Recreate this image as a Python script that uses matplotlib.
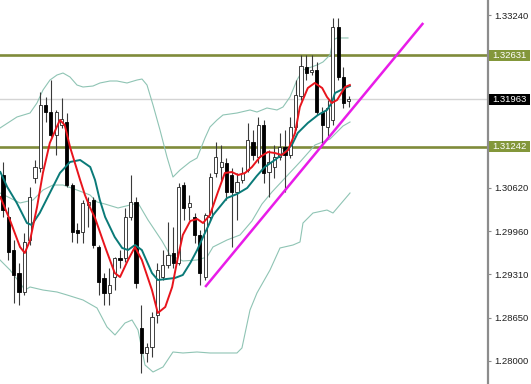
import matplotlib
matplotlib.use("Agg")
import matplotlib.pyplot as plt
from matplotlib.patches import Rectangle

# ---------------- data (prices) ----------------
opens = [1.30816, 1.30179, 1.29679, 1.29331, 1.29043, 1.29831, 1.30770, 1.30922, 1.31876, 1.31770,
         1.31422, 1.31573, 1.31619, 1.30664, 1.29982, 1.29952, 1.30361, 1.30437, 1.29725, 1.29255,
         1.29028, 1.29270, 1.29558, 1.29558, 1.30179, 1.30407, 1.28498, 1.28119, 1.28210, 1.28695,
         1.29270, 1.29452, 1.29634, 1.29482, 1.30664, 1.30331, 1.30179, 1.29907, 1.29270, 1.30179,
         1.30846, 1.30937, 1.30998, 1.30816, 1.30558, 1.30740, 1.30891, 1.31316, 1.31088, 1.31573,
         1.30861, 1.30937, 1.31088, 1.31240, 1.31119, 1.31543, 1.32013, 1.32452, 1.32376, 1.32407,
         1.31770, 1.31543, 1.31649, 1.33058, 1.32301, 1.31937]
highs = [1.31013, 1.30331, 1.29831, 1.29482, 1.29937, 1.30634, 1.31043, 1.32073, 1.31998, 1.32255,
         1.31801, 1.31982, 1.31755, 1.30695, 1.30088, 1.30437, 1.30482, 1.30482, 1.29755, 1.29331,
         1.29407, 1.29573, 1.29679, 1.30316, 1.30816, 1.30482, 1.28846, 1.28270, 1.28740, 1.29482,
         1.29679, 1.30104, 1.30028, 1.30695, 1.30710, 1.30513, 1.30240, 1.29982, 1.30240, 1.30846,
         1.31316, 1.31270, 1.31073, 1.30922, 1.30846, 1.30937, 1.31604, 1.31498, 1.31695, 1.31649,
         1.31195, 1.31270, 1.31452, 1.31498, 1.31695, 1.32255, 1.32634, 1.32634, 1.32634, 1.32528,
         1.31846, 1.31952, 1.33195, 1.33195, 1.32452, 1.32013]
lows = [1.30179, 1.29528, 1.28876, 1.28846, 1.28998, 1.29755, 1.30695, 1.30861, 1.31619, 1.31392,
        1.31119, 1.31528, 1.30634, 1.29801, 1.29785, 1.29785, 1.30028, 1.29710, 1.28998, 1.28846,
        1.28846, 1.29073, 1.29407, 1.29498, 1.30134, 1.29104, 1.27816, 1.27982, 1.28058, 1.28573,
        1.29225, 1.29407, 1.29407, 1.29452, 1.30134, 1.30134, 1.29785, 1.29149, 1.29225, 1.30134,
        1.30785, 1.30740, 1.30437, 1.29725, 1.30134, 1.30695, 1.30861, 1.31043, 1.30998, 1.30695,
        1.30482, 1.30770, 1.31043, 1.30558, 1.31073, 1.31498, 1.31952, 1.32255, 1.32331, 1.31725,
        1.31270, 1.31392, 1.31573, 1.32255, 1.31831, 1.31846]
closes = [1.30285, 1.29649, 1.29301, 1.29043, 1.29801, 1.30482, 1.30937, 1.31876, 1.31770, 1.31422,
          1.31770, 1.31664, 1.30664, 1.29952, 1.29937, 1.30392, 1.30407, 1.29755, 1.29195, 1.29028,
          1.29149, 1.29558, 1.29528, 1.30179, 1.30407, 1.29179, 1.28119, 1.28210, 1.28664, 1.29376,
          1.29452, 1.29604, 1.29482, 1.30634, 1.30316, 1.30392, 1.29907, 1.29331, 1.30210, 1.30785,
          1.31088, 1.31013, 1.30558, 1.30558, 1.30710, 1.30846, 1.31346, 1.31119, 1.31573, 1.30846,
          1.31013, 1.31088, 1.31240, 1.31119, 1.31543, 1.32028, 1.32467, 1.32361, 1.32407, 1.31770,
          1.31573, 1.31831, 1.33058, 1.32301, 1.31907, 1.31963]

# fast moving average (red)
red_x = [-0.5, 1.3, 3.2, 4.1, 5.1, 6.4, 7.5, 8.8, 10.1, 10.7, 11.6, 12.6, 14.5, 15.4, 16.4, 17.3,
         19.2, 21.0, 22.0, 23.5, 24.8, 26.1, 28.0, 29.1, 30.5, 31.8, 32.7, 33.8, 35.2, 36.5, 37.6,
         38.9, 40.4, 41.7, 43.0, 44.2, 45.5, 46.8, 48.3, 49.8, 51.1, 52.4, 53.6, 54.9, 55.8, 57.3,
         58.6, 60.0, 60.9, 61.8, 62.8, 64.3, 65.2]
red_y = [1.30482, 1.30134, 1.29725, 1.29634, 1.29831, 1.30331, 1.30846, 1.31301, 1.31543, 1.31649,
         1.31573, 1.31240, 1.30740, 1.30513, 1.30316, 1.30164, 1.29725, 1.29331, 1.29270, 1.29528,
         1.29725, 1.29528, 1.29073, 1.28725, 1.28816, 1.29119, 1.29498, 1.29907, 1.30119, 1.30149,
         1.30088, 1.30210, 1.30558, 1.30846, 1.30861, 1.30816, 1.30846, 1.30937, 1.31088, 1.31164,
         1.31149, 1.31119, 1.31195, 1.31452, 1.31846, 1.32134, 1.32210, 1.32134, 1.31998, 1.31907,
         1.31952, 1.32149, 1.32179]

# slow moving average (teal)
teal_x = [-0.5, 0.8, 2.6, 4.5, 5.4, 6.9, 8.8, 10.7, 12.6, 14.5, 16.4, 17.3, 18.2, 19.2, 21.0, 22.4,
          23.5, 24.8, 26.1, 28.0, 29.1, 32.3, 33.8, 35.2, 36.5, 37.6, 38.5, 39.5, 42.1, 44.0, 45.9,
          47.7, 49.2, 51.1, 53.0, 54.3, 55.4, 57.3, 59.2, 60.9, 61.8, 62.4, 64.3, 65.2]
teal_y = [1.30861, 1.30634, 1.30392, 1.30088, 1.30058, 1.30240, 1.30543, 1.30846, 1.31013, 1.31043,
          1.30937, 1.30740, 1.30437, 1.30179, 1.29876, 1.29710, 1.29679, 1.29755, 1.29679, 1.29331,
          1.29225, 1.29255, 1.29301, 1.29482, 1.29679, 1.29876, 1.30028, 1.30210, 1.30467, 1.30528,
          1.30619, 1.30801, 1.30937, 1.31043, 1.31164, 1.31270, 1.31452, 1.31604, 1.31725, 1.31801,
          1.31907, 1.32058, 1.32134, 1.32164]

# Bollinger bands
up_x = [-0.56, 2.63, 5.08, 6.39, 7.52, 8.83, 10.15, 11.28, 12.59, 13.91, 15.04, 16.92, 18.23,
        20.11, 21.43, 23.31, 25.19, 26.13, 27.07, 28.20, 29.51, 30.83, 31.95, 33.27, 35.15, 36.47,
        37.97, 38.91, 40.23, 41.35, 43.98, 46.43, 47.74, 49.62, 51.50, 52.63, 53.95, 55.26, 56.39,
        59.02, 60.15, 61.47, 62.03, 62.78, 64.85]
up_y = [1.31528, 1.31695, 1.31755, 1.31907, 1.32104, 1.32255, 1.32331, 1.32361, 1.32301, 1.32179,
        1.32149, 1.32164, 1.32210, 1.32240, 1.32240, 1.32210, 1.32255, 1.32270, 1.32179, 1.31876,
        1.31498, 1.31088, 1.30785, 1.30891, 1.31013, 1.31073, 1.31376, 1.31543, 1.31649, 1.31725,
        1.31755, 1.31801, 1.31770, 1.31831, 1.31801, 1.31846, 1.31998, 1.32255, 1.32407, 1.32482,
        1.32528, 1.32634, 1.32861, 1.32892, 1.32892]
mid_x = [-0.56, 3.20, 5.64, 7.52, 9.40, 11.28, 13.91, 16.35, 17.67, 19.17, 21.62, 23.87, 25.38,
         27.26, 29.89, 31.39, 33.83, 36.47, 38.35, 39.47, 42.11, 44.55, 46.80, 48.68, 50.56, 53.01,
         55.83, 58.65, 61.47, 63.91, 65.23]
mid_y = [1.30543, 1.30392, 1.30437, 1.30588, 1.30664, 1.30664, 1.30588, 1.30513, 1.30407, 1.30376,
         1.30316, 1.30361, 1.30392, 1.30134, 1.29816, 1.29604, 1.29513, 1.29528, 1.29573, 1.29725,
         1.29831, 1.29907, 1.30119, 1.30376, 1.30558, 1.30770, 1.31013, 1.31270, 1.31361, 1.31558,
         1.31619]
low_x = [-0.56, 1.32, 3.20, 4.14, 5.08, 7.52, 10.15, 12.03, 15.04, 17.67, 19.55, 21.05, 22.93,
         24.25, 25.38, 26.69, 28.20, 30.08, 31.95, 33.83, 36.47, 38.91, 41.35, 43.98, 44.92, 46.43,
         47.74, 50.19, 52.07, 54.51, 55.83, 56.39, 58.27, 60.90, 62.03, 65.23]
low_y = [1.29528, 1.29376, 1.29179, 1.29073, 1.29119, 1.29073, 1.29043, 1.28998, 1.28922, 1.28801,
         1.28513, 1.28392, 1.28573, 1.28619, 1.28467, 1.27937, 1.27831, 1.27907, 1.28134, 1.28119,
         1.28134, 1.28119, 1.28119, 1.28119, 1.28195, 1.28770, 1.29028, 1.29376, 1.29710, 1.29755,
         1.29801, 1.30088, 1.30240, 1.30285, 1.30240, 1.30543]

# trend line (bar index, price)
trend_x = [38.0, 79.0]
trend_y = [1.29119, 1.33119]

# horizontal levels
levels = [1.32631, 1.31242]
current_price = 1.31963

# axis ticks; those hidden behind the price boxes carry no visible label
ytick_vals = [1.33240, 1.32590, 1.31930, 1.31280, 1.30620, 1.29960, 1.29310, 1.28650, 1.28000]
ytick_labels = ["1.33240", "", "", "", "1.30620", "1.29960", "1.29310", "1.28650", "1.28000"]

# ---------------- drawing ----------------
W, H = 531, 384
fig = plt.figure(figsize=(W / 100, H / 100), dpi=100)
ax = fig.add_axes([0, 0, 488 / W, 1])
ax.set_xlim(-0.564, 91.17)
ax.set_ylim(1.276491, 1.334673)
for s in ["top", "left", "bottom"]:
    ax.spines[s].set_visible(False)
ax.spines["right"].set_color("#8c8c8c")
ax.spines["right"].set_linewidth(1.6)
ax.set_xticks([])
ax.yaxis.tick_right()
ax.set_yticks(ytick_vals)
ax.set_yticklabels(ytick_labels, fontsize=6.8, family="Liberation Sans", color="#202020")
ax.tick_params(axis="y", length=2.5, width=0.8, color="#8c8c8c", pad=2)

# horizontal lines
ax.axhline(current_price, color="#d4d4d4", lw=1.0, zorder=1)
for lv in levels:
    ax.axhline(lv, color="#7f8b3a", lw=1.9, zorder=1)

# bands
band_col = "#8fc4b4"
ax.plot(up_x, up_y, color=band_col, lw=0.8, zorder=2)
ax.plot(mid_x, mid_y, color=band_col, lw=0.8, zorder=2)
ax.plot(low_x, low_y, color=band_col, lw=0.8, zorder=2)

# candles
idx = list(range(len(opens)))
ax.vlines(idx, lows, highs, color="#3a3a3a", lw=0.8, zorder=3)
bw = 0.6
for i in idx:
    o, c = opens[i], closes[i]
    bottom = min(o, c)
    height = max(abs(c - o), 0.00005)
    if c < o:
        ax.bar(i, height, bottom=bottom, width=bw, color="black", edgecolor="black",
               linewidth=0.6, zorder=4)
    else:
        ax.bar(i, height, bottom=bottom, width=bw, color="white", edgecolor="#222222",
               linewidth=0.6, zorder=4)

# moving averages
ax.plot(teal_x, teal_y, color="#0a7a78", lw=1.4, zorder=5)
ax.plot(red_x, red_y, color="#e8141c", lw=1.4, zorder=6)

# trend line
ax.plot(trend_x, trend_y, color="#e81ce8", lw=1.8, zorder=6, solid_capstyle="butt")

# price boxes on the axis (pixel geometry: x 488..530, 11 px tall)
fig.canvas.draw()
def price_box(price, fc):
    ypix = ax.transData.transform((0, price))[1]
    rect = Rectangle((488.5 / W, (ypix - 5.5) / H), 41.5 / W, 11 / H,
                     transform=fig.transFigure, facecolor=fc, edgecolor="none", zorder=20)
    fig.patches.append(rect)
    fig.text(509.5 / W, ypix / H, f"{price:.5f}", fontsize=6.8, family="Liberation Sans",
             color="white", ha="center", va="center", zorder=21)

for lv in levels:
    price_box(lv, "#83973a")
price_box(current_price, "black")

fig.savefig("out.png", dpi=100)
